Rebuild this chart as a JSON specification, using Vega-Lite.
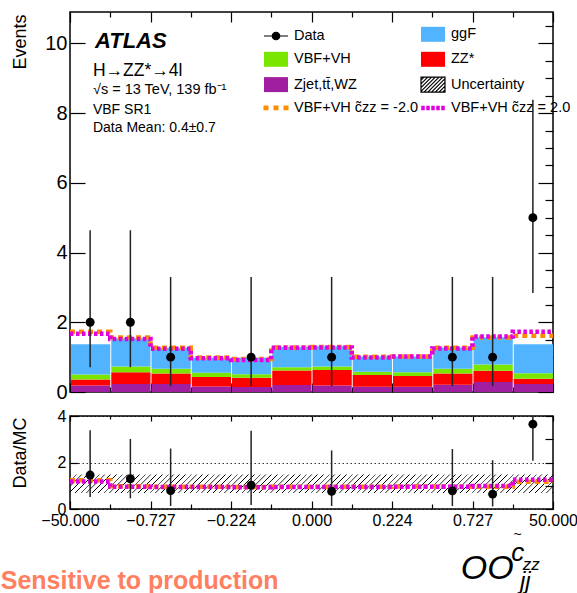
{
  "$schema": "https://vega.github.io/schema/vega-lite/v6.json",
  "background": "white",
  "padding": {"left": 0, "top": 10, "right": 0, "bottom": 0},
  "spacing": 4,
  "config": {
    "font": "Liberation Sans",
    "view": {"stroke": "black", "strokeWidth": 1.5},
    "axis": {"labelFont": "Liberation Sans", "titleFont": "Liberation Sans", "labelColor": "black", "titleColor": "black", "tickColor": "black", "titleFontWeight": "normal", "grid": false, "domain": false, "labelFlush": false, "labelOverlap": false, "tickWidth": 1.2, "minExtent": 0, "offset": 0},
    "text": {"font": "Liberation Sans", "color": "black"}
  },
  "datasets": {
    "mc": [
      {"lo":0,"hi":1,"p":"Zjet,tt̄,WZ","k":0,"v":0.19},{"lo":0,"hi":1,"p":"ZZ*","k":1,"v":0.17},{"lo":0,"hi":1,"p":"VBF+VH","k":2,"v":0.14},{"lo":0,"hi":1,"p":"ggF","k":3,"v":0.87},
      {"lo":1,"hi":2,"p":"Zjet,tt̄,WZ","k":0,"v":0.23},{"lo":1,"hi":2,"p":"ZZ*","k":1,"v":0.34},{"lo":1,"hi":2,"p":"VBF+VH","k":2,"v":0.16},{"lo":1,"hi":2,"p":"ggF","k":3,"v":0.81},
      {"lo":2,"hi":3,"p":"Zjet,tt̄,WZ","k":0,"v":0.23},{"lo":2,"hi":3,"p":"ZZ*","k":1,"v":0.30},{"lo":2,"hi":3,"p":"VBF+VH","k":2,"v":0.14},{"lo":2,"hi":3,"p":"ggF","k":3,"v":0.60},
      {"lo":3,"hi":4,"p":"Zjet,tt̄,WZ","k":0,"v":0.16},{"lo":3,"hi":4,"p":"ZZ*","k":1,"v":0.27},{"lo":3,"hi":4,"p":"VBF+VH","k":2,"v":0.12},{"lo":3,"hi":4,"p":"ggF","k":3,"v":0.43},
      {"lo":4,"hi":5,"p":"Zjet,tt̄,WZ","k":0,"v":0.14},{"lo":4,"hi":5,"p":"ZZ*","k":1,"v":0.27},{"lo":4,"hi":5,"p":"VBF+VH","k":2,"v":0.10},{"lo":4,"hi":5,"p":"ggF","k":3,"v":0.47},
      {"lo":5,"hi":6,"p":"Zjet,tt̄,WZ","k":0,"v":0.20},{"lo":5,"hi":6,"p":"ZZ*","k":1,"v":0.42},{"lo":5,"hi":6,"p":"VBF+VH","k":2,"v":0.09},{"lo":5,"hi":6,"p":"ggF","k":3,"v":0.58},
      {"lo":6,"hi":7,"p":"Zjet,tt̄,WZ","k":0,"v":0.19},{"lo":6,"hi":7,"p":"ZZ*","k":1,"v":0.44},{"lo":6,"hi":7,"p":"VBF+VH","k":2,"v":0.10},{"lo":6,"hi":7,"p":"ggF","k":3,"v":0.58},
      {"lo":7,"hi":8,"p":"Zjet,tt̄,WZ","k":0,"v":0.15},{"lo":7,"hi":8,"p":"ZZ*","k":1,"v":0.34},{"lo":7,"hi":8,"p":"VBF+VH","k":2,"v":0.09},{"lo":7,"hi":8,"p":"ggF","k":3,"v":0.44},
      {"lo":8,"hi":9,"p":"Zjet,tt̄,WZ","k":0,"v":0.15},{"lo":8,"hi":9,"p":"ZZ*","k":1,"v":0.31},{"lo":8,"hi":9,"p":"VBF+VH","k":2,"v":0.11},{"lo":8,"hi":9,"p":"ggF","k":3,"v":0.45},
      {"lo":9,"hi":10,"p":"Zjet,tt̄,WZ","k":0,"v":0.21},{"lo":9,"hi":10,"p":"ZZ*","k":1,"v":0.32},{"lo":9,"hi":10,"p":"VBF+VH","k":2,"v":0.14},{"lo":9,"hi":10,"p":"ggF","k":3,"v":0.61},
      {"lo":10,"hi":11,"p":"Zjet,tt̄,WZ","k":0,"v":0.29},{"lo":10,"hi":11,"p":"ZZ*","k":1,"v":0.32},{"lo":10,"hi":11,"p":"VBF+VH","k":2,"v":0.18},{"lo":10,"hi":11,"p":"ggF","k":3,"v":0.78},
      {"lo":11,"hi":12,"p":"Zjet,tt̄,WZ","k":0,"v":0.23},{"lo":11,"hi":12,"p":"ZZ*","k":1,"v":0.15},{"lo":11,"hi":12,"p":"VBF+VH","k":2,"v":0.16},{"lo":11,"hi":12,"p":"ggF","k":3,"v":0.83}
    ],
    "alt": [
      {"edge":0,"m2":1.73,"p2":1.67,"rm2":1.24,"rp2":1.18},
      {"edge":1,"m2":1.56,"p2":1.52,"rm2":0.98,"rp2":0.96},
      {"edge":2,"m2":1.27,"p2":1.24,"rm2":0.96,"rp2":0.95},
      {"edge":3,"m2":0.99,"p2":0.97,"rm2":0.96,"rp2":0.95},
      {"edge":4,"m2":0.95,"p2":0.92,"rm2":0.95,"rp2":0.94},
      {"edge":5,"m2":1.28,"p2":1.27,"rm2":0.96,"rp2":0.95},
      {"edge":6,"m2":1.29,"p2":1.28,"rm2":0.96,"rp2":0.95},
      {"edge":7,"m2":1.01,"p2":0.99,"rm2":0.96,"rp2":0.95},
      {"edge":8,"m2":1.02,"p2":1.02,"rm2":0.97,"rp2":0.96},
      {"edge":9,"m2":1.27,"p2":1.25,"rm2":0.97,"rp2":0.96},
      {"edge":10,"m2":1.56,"p2":1.59,"rm2":0.96,"rp2":0.99},
      {"edge":11,"m2":1.61,"p2":1.73,"rm2":1.17,"rp2":1.26},
      {"edge":12,"m2":1.61,"p2":1.73,"rm2":1.17,"rp2":1.26}
    ],
    "obs": [
      {"c":0.5,"n":2,"lo":0.71,"hi":4.64,"r":1.46,"rlo":0.52,"rhi":3.39},
      {"c":1.5,"n":2,"lo":0.71,"hi":4.64,"r":1.30,"rlo":0.46,"rhi":3.01},
      {"c":2.5,"n":1,"lo":0.17,"hi":3.30,"r":0.79,"rlo":0.13,"rhi":2.60},
      {"c":4.5,"n":1,"lo":0.17,"hi":3.30,"r":1.02,"rlo":0.17,"rhi":3.37},
      {"c":6.5,"n":1,"lo":0.17,"hi":3.30,"r":0.76,"rlo":0.13,"rhi":2.52},
      {"c":9.5,"n":1,"lo":0.17,"hi":3.30,"r":0.78,"rlo":0.13,"rhi":2.58},
      {"c":10.5,"n":1,"lo":0.17,"hi":3.30,"r":0.64,"rlo":0.11,"rhi":2.10},
      {"c":11.5,"n":5,"lo":2.84,"hi":8.38,"r":3.65,"rlo":2.07,"rhi":6.12}
    ],
    "unc": [
      {"lo":0,"hi":1,"ulo":0.69,"uhi":1.48},{"lo":1,"hi":2,"ulo":0.69,"uhi":1.48},{"lo":2,"hi":3,"ulo":0.69,"uhi":1.48},
      {"lo":3,"hi":4,"ulo":0.69,"uhi":1.48},{"lo":4,"hi":5,"ulo":0.69,"uhi":1.48},{"lo":5,"hi":6,"ulo":0.69,"uhi":1.48},
      {"lo":6,"hi":7,"ulo":0.69,"uhi":1.48},{"lo":7,"hi":8,"ulo":0.69,"uhi":1.48},{"lo":8,"hi":9,"ulo":0.69,"uhi":1.48},
      {"lo":9,"hi":10,"ulo":0.69,"uhi":1.48},{"lo":10,"hi":11,"ulo":0.69,"uhi":1.48},{"lo":11,"hi":12,"ulo":0.69,"uhi":1.48}
    ]
  },
  "resolve": {"scale": {"color": "independent"}, "legend": {"color": "independent"}},
  "vconcat": [
    {
      "width": 483,
      "height": 380,
      "resolve": {"axis": {"x": "independent", "y": "independent"}},
      "layer": [
        {
          "layer": [
            {
              "data": {"name": "mc"},
              "mark": {"type": "bar"},
              "encoding": {
                "x": {"field": "lo", "type": "quantitative", "bin": "binned", "scale": {"domain": [0, 12], "nice": false, "zero": false},
                      "axis": {"values": [0,1,2,3,4,5,6,7,8,9,10,11,12], "labels": false, "title": null,
                               "tickSize": {"condition": {"test": "datum.value % 2 === 0", "value": -9}, "value": -5}}},
                "x2": {"field": "hi"},
                "y": {"field": "v", "type": "quantitative", "stack": "zero", "scale": {"domain": [0, 10.9], "nice": false},
                      "axis": {"values": [0,0.5,1,1.5,2,2.5,3,3.5,4,4.5,5,5.5,6,6.5,7,7.5,8,8.5,9,9.5,10,10.5],
                               "labelExpr": "datum.value % 2 === 0 ? format(datum.value, 'd') : ''",
                               "labelFontSize": 20, "labelPadding": 18,
                               "tickSize": {"condition": {"test": "datum.value % 2 === 0", "value": -15}, "value": -8},
                               "title": "Events", "titleFontSize": 18, "titleAngle": -90, "titleAlign": "right", "titleBaseline": "alphabetic", "titleX": -45, "titleY": 2}},
                "color": {"field": "p", "type": "nominal",
                          "scale": {"domain": ["Data", "VBF+VH", "Zjet,tt̄,WZ", "VBF+VH c̃zz = -2.0", "ggF", "ZZ*", "Uncertainty", "VBF+VH c̃zz = 2.0"],
                                    "range": ["black", "#7AE600", "#A01FA0", "#FF8C00", "#52B4FF", "#FF0000", "white", "#E000E0"]},
                          "legend": {"orient": "none", "legendX": 197.5, "legendY": 13.5, "columns": 2, "columnPadding": 0, "rowPadding": 4.3,
                                     "symbolSize": 225, "labelFontSize": 14.5, "labelFont": "Liberation Sans", "labelColor": "black", "labelOffset": 9.5, "labelLimit": 0,
                                     "title": null, "padding": 0, "symbolStrokeWidth": 1.2,
                                     "encode": {
                                       "symbols": {"update": {
                                       "shape": {"signal": "datum.value === 'Data' ? 'M-1.6,0H1.6M0.5,0A0.5,0.5 0 1,1 -0.5,0A0.5,0.5 0 1,1 0.5,0Z' : datum.value === 'Uncertainty' ? 'M-1.6,-1H1.6V1H-1.6ZM-1.6,-0.6L-1.2,-1M-1.6,-0.1L-0.7,-1M-1.6,0.4L-0.2,-1M-1.6,0.9L0.3,-1M-1.2,1L0.8,-1M-0.7,1L1.3,-1M-0.2,1L1.6,-0.8M0.3,1L1.6,-0.3M0.8,1L1.6,0.2M1.3,1L1.6,0.7' : indexof(datum.value, '-2.0') >= 0 ? 'M-1.67,-0.31H-1V0.31H-1.67ZM-0.33,-0.31H0.33V0.31H-0.33ZM1,-0.31H1.67V0.31H1Z' : indexof(datum.value, '= 2.0') >= 0 ? 'M-1.57,-0.3H-1.1V0.3H-1.57ZM-0.9,-0.3H-0.43V0.3H-0.9ZM-0.23,-0.3H0.23V0.3H-0.23ZM0.43,-0.3H0.9V0.3H0.43ZM1.1,-0.3H1.57V0.3H1.1Z' : 'M-1.6,-1H1.6V1H-1.6Z'"},
                                       "stroke": {"signal": "datum.value === 'Data' || datum.value === 'Uncertainty' ? 'black' : 'transparent'"},
                                       "opacity": {"value": 1}
                                     }}}}},
                "order": {"field": "k", "type": "quantitative"}
              }
            },
            {
              "data": {"name": "alt"},
              "mark": {"type": "line", "interpolate": "step-after", "color": "#FF8C00", "strokeWidth": 4.5, "strokeDash": [5, 4]},
              "encoding": {"x": {"field": "edge", "type": "quantitative"}, "y": {"field": "m2", "type": "quantitative"}}
            },
            {
              "data": {"name": "alt"},
              "mark": {"type": "line", "interpolate": "step-after", "color": "#E000E0", "strokeWidth": 4.5, "strokeDash": [3.5, 2.5]},
              "encoding": {"x": {"field": "edge", "type": "quantitative"}, "y": {"field": "p2", "type": "quantitative"}}
            },
            {
              "data": {"name": "obs"},
              "mark": {"type": "rule", "color": "#222", "strokeWidth": 1.5},
              "encoding": {"x": {"field": "c", "type": "quantitative"}, "y": {"field": "lo", "type": "quantitative"}, "y2": {"field": "hi"}}
            },
            {
              "data": {"values": [{}]},
              "mark": {"type": "text", "text": "ATLAS", "fontSize": 22, "fontStyle": "italic", "fontWeight": "bold", "align": "left", "baseline": "alphabetic"},
              "encoding": {"x": {"datum": 0.62}, "y": {"datum": 9.88}}
            },
            {
              "data": {"values": [{}]},
              "mark": {"type": "text", "text": "H→ZZ*→4l", "fontSize": 17.5, "align": "left", "baseline": "alphabetic"},
              "encoding": {"x": {"datum": 0.57}, "y": {"datum": 9.06}}
            },
            {
              "data": {"values": [{}]},
              "mark": {"type": "text", "text": "√s = 13 TeV, 139 fb⁻¹", "fontSize": 14.5, "align": "left", "baseline": "alphabetic"},
              "encoding": {"x": {"datum": 0.57}, "y": {"datum": 8.55}}
            },
            {
              "data": {"values": [{}]},
              "mark": {"type": "text", "text": "VBF SR1", "fontSize": 14, "align": "left", "baseline": "alphabetic"},
              "encoding": {"x": {"datum": 0.57}, "y": {"datum": 7.98}}
            },
            {
              "data": {"values": [{}]},
              "mark": {"type": "text", "text": "Data Mean: 0.4±0.7", "fontSize": 14, "align": "left", "baseline": "alphabetic"},
              "encoding": {"x": {"datum": 0.57}, "y": {"datum": 7.46}}
            }
          ]
        },
        {
          "data": {"name": "obs"},
          "mark": {"type": "circle", "size": 80, "color": "black", "opacity": 1},
          "encoding": {
            "x": {"field": "c", "type": "quantitative",
                  "axis": {"orient": "top", "values": [0,1,2,3,4,5,6,7,8,9,10,11,12], "labels": false, "title": null,
                           "tickSize": {"condition": {"test": "datum.value % 2 === 0", "value": -10}, "value": -5}}},
            "y": {"field": "n", "type": "quantitative",
                  "axis": {"orient": "right", "values": [0,0.5,1,1.5,2,2.5,3,3.5,4,4.5,5,5.5,6,6.5,7,7.5,8,8.5,9,9.5,10,10.5], "labels": false, "title": null,
                           "tickSize": {"condition": {"test": "datum.value % 2 === 0", "value": -15}, "value": -8}}}
          }
        }
      ]
    },
    {
      "width": 483,
      "height": 93,
      "resolve": {"axis": {"x": "independent", "y": "independent"}},
      "layer": [
        {
          "layer": [
            {
              "data": {"name": "unc"},
              "mark": {"type": "bar", "fill": {"gradient": "linear", "x1": 0, "y1": 0, "x2": 1.2053, "y2": 0.55, "stops": [
                {"offset": 0, "color": "#000"}, {"offset": 0.008, "color": "#000"}, {"offset": 0.018, "color": "rgba(0,0,0,0)"}, {"offset": 0.0941, "color": "rgba(0,0,0,0)"},
                {"offset": 0.0981, "color": "#000"}, {"offset": 0.1061, "color": "#000"}, {"offset": 0.1161, "color": "rgba(0,0,0,0)"}, {"offset": 0.1922, "color": "rgba(0,0,0,0)"},
                {"offset": 0.1962, "color": "#000"}, {"offset": 0.2042, "color": "#000"}, {"offset": 0.2142, "color": "rgba(0,0,0,0)"}, {"offset": 0.2903, "color": "rgba(0,0,0,0)"},
                {"offset": 0.2943, "color": "#000"}, {"offset": 0.3023, "color": "#000"}, {"offset": 0.3123, "color": "rgba(0,0,0,0)"}, {"offset": 0.3884, "color": "rgba(0,0,0,0)"},
                {"offset": 0.3924, "color": "#000"}, {"offset": 0.4004, "color": "#000"}, {"offset": 0.4104, "color": "rgba(0,0,0,0)"}, {"offset": 0.4865, "color": "rgba(0,0,0,0)"},
                {"offset": 0.4905, "color": "#000"}, {"offset": 0.4985, "color": "#000"}, {"offset": 0.5085, "color": "rgba(0,0,0,0)"}, {"offset": 0.5846, "color": "rgba(0,0,0,0)"},
                {"offset": 0.5886, "color": "#000"}, {"offset": 0.5966, "color": "#000"}, {"offset": 0.6066, "color": "rgba(0,0,0,0)"}, {"offset": 0.6827, "color": "rgba(0,0,0,0)"},
                {"offset": 0.6867, "color": "#000"}, {"offset": 0.6947, "color": "#000"}, {"offset": 0.7047, "color": "rgba(0,0,0,0)"}, {"offset": 0.7808, "color": "rgba(0,0,0,0)"},
                {"offset": 0.7848, "color": "#000"}, {"offset": 0.7928, "color": "#000"}, {"offset": 0.8028, "color": "rgba(0,0,0,0)"}, {"offset": 0.8789, "color": "rgba(0,0,0,0)"},
                {"offset": 0.8829, "color": "#000"}, {"offset": 0.8909, "color": "#000"}, {"offset": 0.9009, "color": "rgba(0,0,0,0)"}, {"offset": 0.977, "color": "rgba(0,0,0,0)"},
                {"offset": 0.981, "color": "#000"}, {"offset": 0.989, "color": "#000"}, {"offset": 0.999, "color": "rgba(0,0,0,0)"}, {"offset": 1, "color": "rgba(0,0,0,0)"}
              ]}},
              "encoding": {
                "x": {"field": "lo", "type": "quantitative", "scale": {"domain": [0, 12], "nice": false, "zero": false},
                      "axis": {"values": [0,1,2,3,4,5,6,7,8,9,10,11,12],
                               "labelExpr": "['−50.000','','−0.727','','−0.224','','0.000','','0.224','','0.727','','50.000'][datum.value]",
                               "labelFontSize": 16, "labelPadding": 11, "title": null,
                               "tickSize": {"condition": {"test": "datum.value % 2 === 0", "value": -8}, "value": -5}}},
                "x2": {"field": "hi"},
                "y": {"field": "ulo", "type": "quantitative", "scale": {"domain": [0, 4], "nice": false},
                      "axis": {"values": [0,1,2,3,4], "format": "d", "labelFontSize": 16, "labelPadding": 12, "tickSize": -8,
                               "grid": true, "gridDash": [1.5, 2.5], "gridColor": "black", "gridWidth": 0.8,
                               "title": "Data/MC", "titleFontSize": 18, "titleAngle": -90, "titleAlign": "right", "titleBaseline": "alphabetic", "titleX": -45, "titleY": 1}},
                "y2": {"field": "uhi"}
              }
            },
            {
              "data": {"name": "alt"},
              "mark": {"type": "line", "interpolate": "step-after", "color": "#FF8C00", "strokeWidth": 4.5, "strokeDash": [5, 4]},
              "encoding": {"x": {"field": "edge", "type": "quantitative"}, "y": {"field": "rm2", "type": "quantitative"}}
            },
            {
              "data": {"name": "alt"},
              "mark": {"type": "line", "interpolate": "step-after", "color": "#E000E0", "strokeWidth": 4.5, "strokeDash": [3.5, 2.5]},
              "encoding": {"x": {"field": "edge", "type": "quantitative"}, "y": {"field": "rp2", "type": "quantitative"}}
            },
            {
              "data": {"name": "obs"},
              "mark": {"type": "rule", "color": "#222", "strokeWidth": 1.5, "clip": true},
              "encoding": {"x": {"field": "c", "type": "quantitative"}, "y": {"field": "rlo", "type": "quantitative"}, "y2": {"field": "rhi"}}
            },
            {
              "data": {"values": [{}]},
              "mark": {"type": "text", "text": "Sensitive to production", "fontSize": 25, "fontWeight": "bold", "color": "#FF8060", "align": "left", "baseline": "alphabetic"},
              "encoding": {"x": {"datum": -1.72}, "y": {"datum": -3.46}}
            },
            {
              "data": {"values": [{}]},
              "mark": {"type": "text", "text": "OO", "fontSize": 34, "fontStyle": "italic", "align": "left", "baseline": "alphabetic"},
              "encoding": {"x": {"datum": 9.71}, "y": {"datum": -3.01}}
            },
            {
              "data": {"values": [{}]},
              "mark": {"type": "text", "text": "c", "fontSize": 26, "fontStyle": "italic", "align": "left", "baseline": "alphabetic"},
              "encoding": {"x": {"datum": 10.96}, "y": {"datum": -2.24}}
            },
            {
              "data": {"values": [{}]},
              "mark": {"type": "text", "text": "~", "fontSize": 14, "align": "center", "baseline": "alphabetic"},
              "encoding": {"x": {"datum": 11.12}, "y": {"datum": -1.29}}
            },
            {
              "data": {"values": [{}]},
              "mark": {"type": "text", "text": "zz", "fontSize": 17, "fontStyle": "italic", "align": "left", "baseline": "alphabetic"},
              "encoding": {"x": {"datum": 11.25}, "y": {"datum": -2.62}}
            },
            {
              "data": {"values": [{}]},
              "mark": {"type": "text", "text": "jj", "fontSize": 24, "fontStyle": "italic", "align": "left", "baseline": "alphabetic"},
              "encoding": {"x": {"datum": 11.18}, "y": {"datum": -3.44}}
            }
          ]
        },
        {
          "data": {"name": "obs"},
          "mark": {"type": "circle", "size": 80, "color": "black", "opacity": 1, "clip": true},
          "encoding": {
            "x": {"field": "c", "type": "quantitative",
                  "axis": {"orient": "top", "values": [0,1,2,3,4,5,6,7,8,9,10,11,12], "labels": false, "title": null,
                           "tickSize": {"condition": {"test": "datum.value % 2 === 0", "value": -5}, "value": -3}}},
            "y": {"field": "r", "type": "quantitative",
                  "axis": {"orient": "right", "values": [0,1,2,3,4], "labels": false, "title": null, "tickSize": -8}}
          }
        }
      ]
    }
  ]
}
